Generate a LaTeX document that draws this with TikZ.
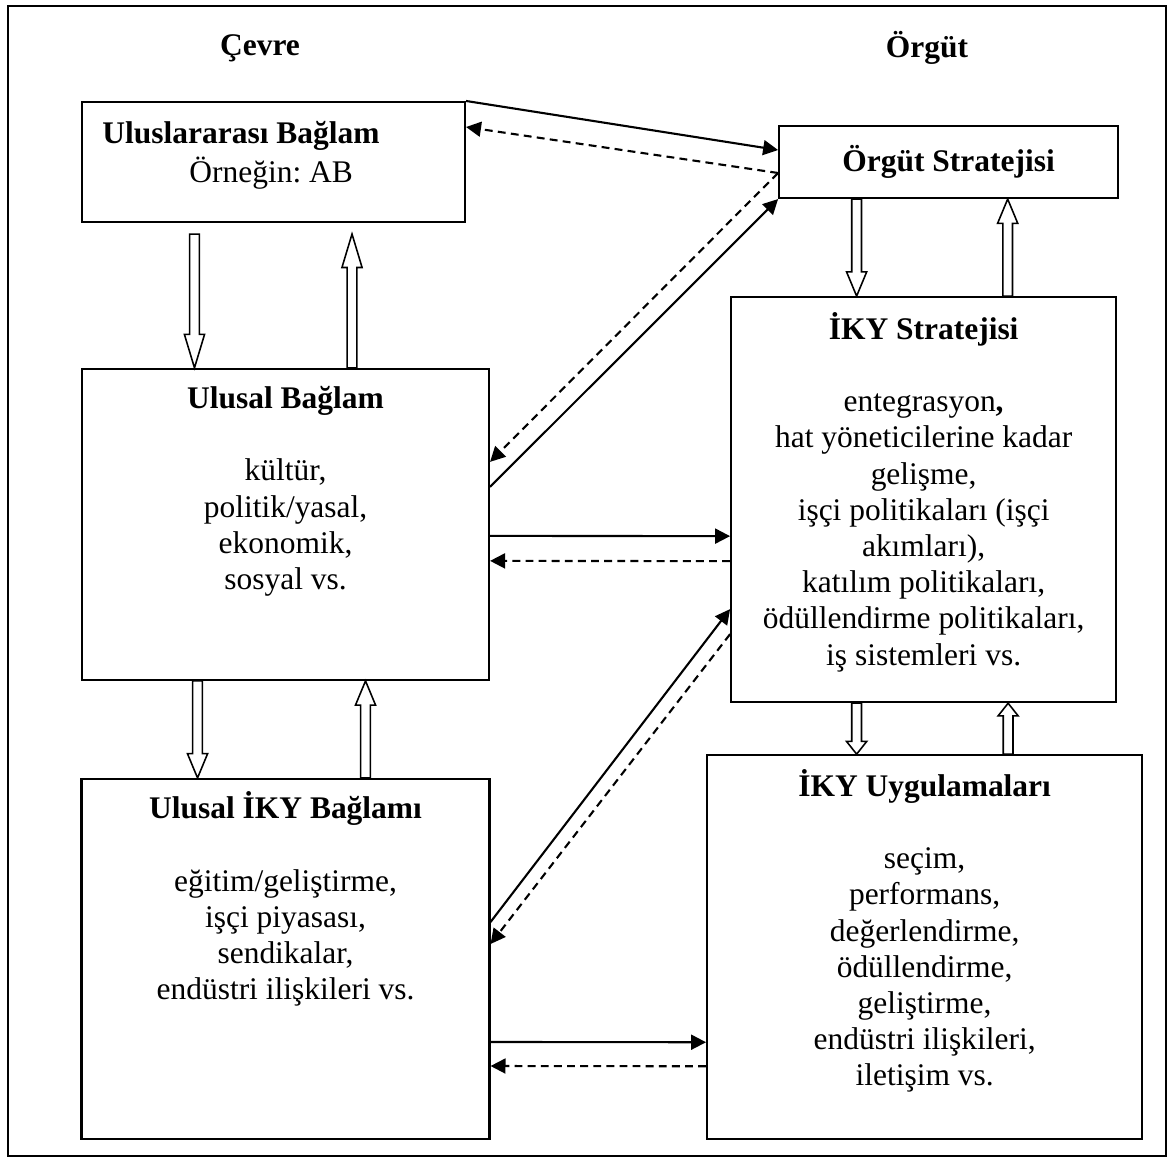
\documentclass[tikz,border=0pt]{standalone}
\usepackage{fontspec}
\setmainfont{Liberation Serif}
\usepackage{tikz}
\usetikzlibrary{positioning, calc, arrows.meta}
\frenchspacing
\tikzstyle{box} = [rectangle, draw=black, thick]
\tikzstyle{boxtext} = [align=center, inner sep=0pt, font=\fontsize{12}{13.8}\selectfont]
\tikzstyle{head} = [font=\fontsize{12}{13.8}\selectfont\bfseries]
\tikzstyle{arrow} = [thick,->,>={Triangle[length=0.2cm,width=0.2cm]}]
\tikzstyle{dasharrow} = [arrow, dash pattern=on 3pt off 2pt]
\tikzstyle{hollow} = [draw, fill=white, semithick, to path={let \p1=(\tikztostart), \p2=(\tikztotarget) in
  ({\x1-0.065cm},\y1) -- ({\x1-0.065cm},{0.75*(\y2)+0.25*(\y1)}) -- ({\x1-0.135cm},{0.75*(\y2)+0.25*(\y1)})
  -- (\x1,\y2) -- ({\x1+0.135cm},{0.75*(\y2)+0.25*(\y1)}) -- ({\x1+0.065cm},{0.75*(\y2)+0.25*(\y1)})
  -- ({\x1+0.065cm},\y1) -- cycle}]

\begin{document}
\begin{tikzpicture}
  \useasboundingbox (0,0) rectangle (15.745,-15.531);
  \draw [thick] (0.107,-0.080) rectangle (15.624,-15.490);

  \node (cevre) [head] at (3.484,-0.643) {Çevre};
  \node (orgutlbl) [head] at (12.422,-0.643) {Örgüt};

  \node (intl) [box, minimum width=5.132cm, minimum height=1.608cm] at (3.665,-2.171) {};
  \node (orgut) [box, head, minimum width=4.543cm, minimum height=0.965cm, right=4.181cm of intl] {Örgüt Stratejisi};
  \node (ub) [box, minimum width=5.454cm, minimum height=4.167cm, below=1.94cm of intl, xshift=0.161cm] {};
  \node (uiky) [box, minimum width=5.467cm, minimum height=4.824cm, below=1.3cm of ub] {};
  \node (ikys) [box, minimum width=5.159cm, minimum height=5.427cm, below=1.3cm of orgut, xshift=-0.335cm] {};
  \node (ikyu) [box, minimum width=5.829cm, minimum height=5.146cm, below=0.683cm of ikys, xshift=0.013cm] {};

  \node (intltext) [boxtext, align=left, below right=0.268cm and 0.281cm of intl.north west] {\textbf{Uluslararası Bağlam}\\[1pt]\hspace*{1.166cm}Örneğin: AB};
  \node (ubtext) [boxtext, below=0.24cm of ub.north] {\textbf{Ulusal Bağlam}\\[13.8pt]kültür,\\politik/yasal,\\ekonomik,\\sosyal vs.};
  \node (ikystext) [boxtext, below=0.21cm of ikys.north] {\textbf{İKY Stratejisi}\\[13.8pt]entegrasyon\textbf{,}\\hat yöneticilerine kadar\\gelişme,\\işçi politikaları (işçi\\akımları),\\katılım politikaları,\\ödüllendirme politikaları,\\iş sistemleri vs.};
  \node (uikytext) [boxtext, below=0.18cm of uiky.north] {\textbf{Ulusal İKY Bağlamı}\\[13.8pt]eğitim/geliştirme,\\işçi piyasası,\\sendikalar,\\endüstri ilişkileri vs.};
  \node (ikyutext) [boxtext, below=0.195cm of ikyu.north] {\textbf{İKY Uygulamaları}\\[13.8pt]seçim,\\performans,\\değerlendirme,\\ödüllendirme,\\geliştirme,\\endüstri ilişkileri,\\iletişim vs.};

  % hollow arrows between the levels
  \draw [hollow] ([xshift=-1.059cm,yshift=-0.147cm]intl.south) to ([xshift=-1.219cm]ub.north);
  \draw [hollow] ([xshift=0.891cm]ub.north) to ([xshift=1.052cm,yshift=-0.147cm]intl.south);
  \draw [hollow] ([xshift=-1.179cm]ub.south) to ([xshift=-1.173cm]uiky.north);
  \draw [hollow] ([xshift=1.072cm]uiky.north) to ([xshift=1.065cm]ub.south);
  \draw [hollow] ([xshift=-1.233cm]orgut.south) to ([xshift=-0.898cm]ikys.north);
  \draw [hollow] ([xshift=1.126cm]ikys.north) to ([xshift=0.791cm]orgut.south);
  \draw [hollow] ([xshift=-0.898cm]ikys.south) to ([xshift=-0.911cm]ikyu.north);
  \draw [hollow] ([xshift=1.119cm]ikyu.north) to ([xshift=1.132cm]ikys.south);

  % environment <-> organisation
  \draw [arrow] (intl.north east) -- ([yshift=0.161cm]orgut.west);
  \draw [dasharrow] ([yshift=-0.147cm]orgut.west) -- ([yshift=0.469cm]intl.east);
  \draw [dasharrow] ([yshift=-0.147cm]orgut.west) -- ([yshift=0.838cm]ub.east);
  \draw [arrow] ([yshift=0.503cm]ub.east) -- (orgut.south west);
  \draw [arrow] ([yshift=-0.154cm]ub.east) -- ([yshift=-0.489cm]ikys.west);
  \draw [dasharrow] ([yshift=-0.824cm]ikys.west) -- ([yshift=-0.489cm]ub.east);
  \draw [arrow] ([yshift=0.496cm]uiky.east) -- ([yshift=-1.467cm]ikys.west);
  \draw [dasharrow] ([yshift=-1.802cm]ikys.west) -- ([yshift=0.201cm]uiky.east);
  \draw [arrow] ([yshift=-1.112cm]uiky.east) -- ([yshift=-1.273cm]ikyu.west);
  \draw [dasharrow] ([yshift=-1.595cm]ikyu.west) -- ([yshift=-1.434cm]uiky.east);
\end{tikzpicture}
\end{document}
